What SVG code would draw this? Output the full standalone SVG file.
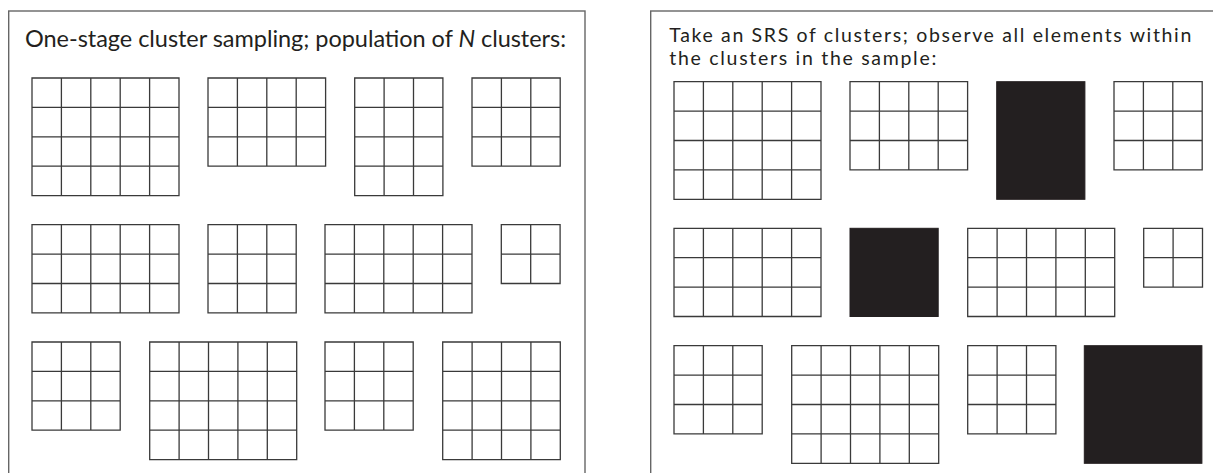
<svg xmlns="http://www.w3.org/2000/svg" xmlns:xlink="http://www.w3.org/1999/xlink" width="1213" height="473" viewBox="0 0 1213 473">
<style>
.frame{fill:none;stroke:#666;stroke-width:1.4}
.grid{fill:#fff;stroke:#3a3a3a;stroke-width:1.3}
.blk{fill:#231f20;stroke:#231f20;stroke-width:1}
.lbl{font-family:Lato,"Open Sans",sans-serif;fill:#231f20}
</style>
<defs>
<path id="g54" class="grid" d="M0,0H147V117.6H0Z M29.4,0V117.6 M58.8,0V117.6 M88.2,0V117.6 M117.6,0V117.6 M0,29.4H147 M0,58.8H147 M0,88.2H147"/>
<path id="g43" class="grid" d="M0,0H117.6V88.2H0Z M29.4,0V88.2 M58.8,0V88.2 M88.2,0V88.2 M0,29.4H117.6 M0,58.8H117.6"/>
<path id="g34" class="grid" d="M0,0H88.2V117.6H0Z M29.4,0V117.6 M58.8,0V117.6 M0,29.4H88.2 M0,58.8H88.2 M0,88.2H88.2"/>
<path id="g33" class="grid" d="M0,0H88.2V88.2H0Z M29.4,0V88.2 M58.8,0V88.2 M0,29.4H88.2 M0,58.8H88.2"/>
<path id="g53" class="grid" d="M0,0H147V88.2H0Z M29.4,0V88.2 M58.8,0V88.2 M88.2,0V88.2 M117.6,0V88.2 M0,29.4H147 M0,58.8H147"/>
<path id="g22" class="grid" d="M0,0H58.8V58.8H0Z M29.4,0V58.8 M0,29.4H58.8"/>
<path id="g44" class="grid" d="M0,0H117.6V117.6H0Z M29.4,0V117.6 M58.8,0V117.6 M88.2,0V117.6 M0,29.4H117.6 M0,58.8H117.6 M0,88.2H117.6"/>
</defs>
<rect width="1213" height="473" fill="#fff"/>
<g id="panel-left">
<rect class="frame" x="8.7" y="11" width="576.3" height="480"/>
<text class="lbl" x="25" y="47" font-size="23.5" textLength="541" lengthAdjust="spacing">One-stage cluster sampling; population of <tspan font-style="italic">N</tspan> clusters:</text>
</g>
<g id="panel-right">
<rect class="frame" x="650.7" y="11" width="600" height="480"/>
<text class="lbl" x="669.3" y="41.5" font-size="19.5" textLength="522" lengthAdjust="spacing">Take an SRS of clusters; observe all elements within</text>
<text class="lbl" x="669.3" y="65" font-size="19.5" textLength="267" lengthAdjust="spacing">the clusters in the sample:</text>
</g>
<g id="L1"><use xlink:href="#g54" x="32" y="78"/></g>
<g id="L2"><use xlink:href="#g43" x="208" y="78"/></g>
<g id="L3"><use xlink:href="#g34" x="354.7" y="78"/></g>
<g id="L4"><use xlink:href="#g33" x="472" y="78"/></g>
<g id="L5"><use xlink:href="#g53" x="32" y="224.7"/></g>
<g id="L6"><use xlink:href="#g33" x="208" y="224.7"/></g>
<g id="L7"><use xlink:href="#g53" x="325" y="224.7"/></g>
<g id="L8"><use xlink:href="#g22" x="501.3" y="224.7"/></g>
<g id="L9"><use xlink:href="#g33" x="32" y="342"/></g>
<g id="L10"><use xlink:href="#g54" x="149.7" y="342"/></g>
<g id="L11"><use xlink:href="#g33" x="325" y="342"/></g>
<g id="L12"><use xlink:href="#g44" x="442.7" y="342"/></g>
<g id="R1"><use xlink:href="#g54" x="674" y="81.7"/></g>
<g id="R2"><use xlink:href="#g43" x="850" y="81.7"/></g>
<g id="R3"><rect class="blk" x="996.7" y="81.7" width="88.2" height="117.6"/></g>
<g id="R4"><use xlink:href="#g33" x="1114" y="81.7"/></g>
<g id="R5"><use xlink:href="#g53" x="674" y="228.3"/></g>
<g id="R6"><rect class="blk" x="850" y="228.3" width="88.2" height="88.2"/></g>
<g id="R7"><use xlink:href="#g53" x="967.7" y="228.3"/></g>
<g id="R8"><use xlink:href="#g22" x="1143.7" y="228.3"/></g>
<g id="R9"><use xlink:href="#g33" x="674" y="345.7"/></g>
<g id="R10"><use xlink:href="#g54" x="791.7" y="345.7"/></g>
<g id="R11"><use xlink:href="#g33" x="967.7" y="345.7"/></g>
<g id="R12"><rect class="blk" x="1084.3" y="345.7" width="117.6" height="117.6"/></g>
<g id="connectors"/>
</svg>
